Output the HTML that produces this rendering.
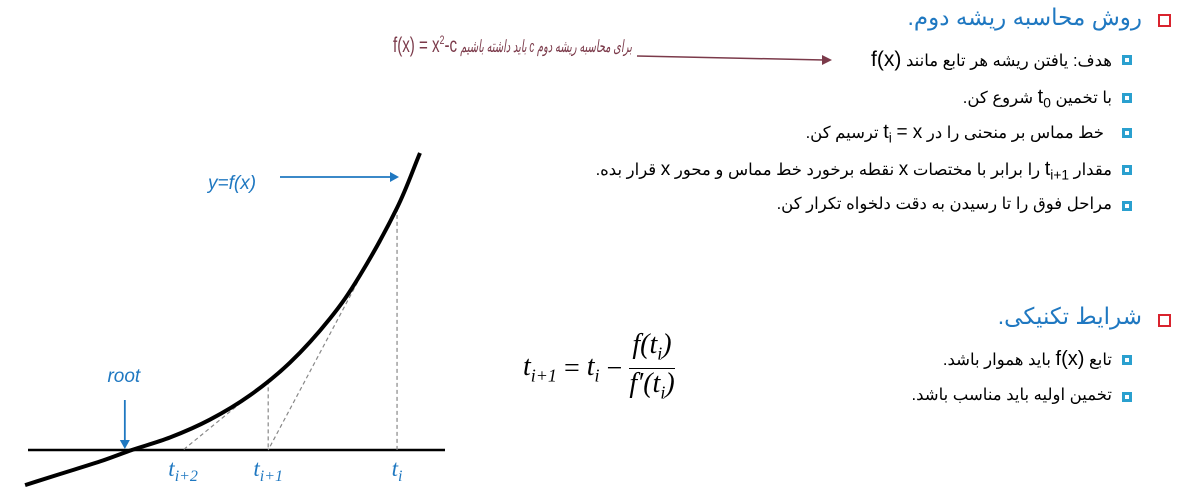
<!DOCTYPE html>
<html><head><meta charset="utf-8">
<style>
body{margin:0;width:1196px;height:498px;background:#fff;overflow:hidden;position:relative;font-family:"Liberation Sans","Noto Sans CJK SC",sans-serif;}
.t{position:absolute;white-space:nowrap;direction:rtl;text-align:right;}
.title{color:#1f78c1;font-size:23px;}
.line{color:#000;font-size:16.5px;}
.red{position:absolute;width:9px;height:9px;border:2px solid #d9232e;}
.bl{position:absolute;width:4px;height:4px;border:3px solid #2aa0cf;background:#fff;}
.m{font-family:"Liberation Serif",serif;font-style:italic;}
</style></head><body>
<div class="red" style="left:1158px;top:14px"></div>
<div class="t title" style="right:54px;top:4px">روش محاسبه ریشه دوم.</div>

<div style="position:absolute;white-space:nowrap;left:393px;top:33px;color:#7b3a4a;font-size:21px;transform:scaleX(0.72);transform-origin:left center">f(x) = x<sup style="font-size:12px">2</sup>-c</div>
<div class="t" style="right:564px;top:37px;color:#7b3a4a;font-size:17px;font-style:italic;transform:scaleX(0.58);transform-origin:right center">برای محاسبه ریشه دوم c باید داشته باشیم</div>
<svg style="position:absolute;left:0;top:0" width="1196" height="498"><line x1="637" y1="56" x2="824" y2="60" stroke="#7b3a4a" stroke-width="1.5"/><polygon points="832,60 822,55 822,65" fill="#7b3a4a"/></svg>

<div class="bl" style="left:1122px;top:55px"></div>
<div class="t line" style="right:84px;top:48px">هدف: یافتن ریشه هر تابع مانند <span style="font-size:21px">f(x)</span></div>
<div class="bl" style="left:1122px;top:93px"></div>
<div class="t line" style="right:84px;top:86px">با تخمین <span style="font-size:20px">t</span><sub>0</sub> شروع کن.</div>
<div class="bl" style="left:1122px;top:128px"></div>
<div class="t line" style="right:92px;top:121px">خط مماس بر منحنی را در <span style="font-size:20px">t</span><sub>i</sub> <span style="font-size:19px">= x</span> ترسیم کن.</div>
<div class="bl" style="left:1122px;top:165px"></div>
<div class="t line" style="right:84px;top:158px">مقدار <span style="font-size:20px">t</span><sub>i+1</sub> را برابر با مختصات <span style="font-size:19px">x</span> نقطه برخورد خط مماس و محور <span style="font-size:19px">x</span> قرار بده.</div>
<div class="bl" style="left:1122px;top:201px"></div>
<div class="t line" style="right:84px;top:194px">مراحل فوق را تا رسیدن به دقت دلخواه تکرار کن.</div>

<div class="red" style="left:1158px;top:314px"></div>
<div class="t title" style="right:54px;top:303px">شرایط تکنیکی.</div>
<div class="bl" style="left:1122px;top:355px"></div>
<div class="t line" style="right:84px;top:348px">تابع <span style="font-size:20px">f(x)</span> باید هموار باشد.</div>
<div class="bl" style="left:1122px;top:392px"></div>
<div class="t line" style="right:84px;top:385px">تخمین اولیه باید مناسب باشد.</div>

<div style="position:absolute;left:523px;top:331px;font-family:'Liberation Serif',serif;font-size:28px;display:flex;align-items:center;white-space:nowrap">
<span class="m">t<sub style="font-size:18px">i+1</sub></span>&nbsp;=&nbsp;<span class="m">t<sub style="font-size:18px">i</sub></span>&nbsp;−&nbsp;
<span style="display:inline-flex;flex-direction:column;align-items:center;"><span class="m" style="border-bottom:1.3px solid #000;padding:0 3px;line-height:28px">f(t<sub style="font-size:18px">i</sub>)</span><span class="m" style="line-height:30px">f′(t<sub style="font-size:18px">i</sub>)</span></span>
</div>

<svg id="chart" style="position:absolute;left:0;top:0" width="1196" height="498"></svg>
<script>
const curveX=[-0.07,0.77,1.73,2.49,3.41,4.36,5.32,6.28,7.24,7.96,8.85,9.4];
const curveY=[-1.17,-0.8,-0.38,0,0.42,1.01,1.82,2.91,4.38,5.82,8.07,9.9];
const iterX=[8.85,5.76,3.72];
const iterLabels=['i','i+1','i+2'];
const rootX=2.49;
const sx=x=>28+x*41.7, sy=y=>450-y*30;
const NS='http://www.w3.org/2000/svg';
const svg=document.getElementById('chart');
function mk(t,a){const e=document.createElementNS(NS,t);for(const k in a)e.setAttribute(k,a[k]);svg.appendChild(e);return e;}
function fAt(x){for(let i=0;i<curveX.length-1;i++){if(x>=curveX[i]&&x<=curveX[i+1]){const r=(x-curveX[i])/(curveX[i+1]-curveX[i]);return curveY[i]+r*(curveY[i+1]-curveY[i]);}}return 0;}
let ax=mk('line',{x1:28,y1:sy(0),x2:445,y2:sy(0),stroke:'#000','stroke-width':2.5});


for(let i=0;i<2;i++){
  const x0=iterX[i],y0=fAt(x0),x1=iterX[i+1];
  let v=mk('line',{x1:sx(x0),y1:sy(y0),x2:sx(x0),y2:sy(0),stroke:'#888','stroke-width':1.2,'stroke-dasharray':'4,3'});
  
  
  let t=mk('line',{x1:sx(x0),y1:sy(y0),x2:sx(x1),y2:sy(0),stroke:'#888','stroke-width':1.2,'stroke-dasharray':'4,3'});
  
  
}
const P=curveX.map((x,i)=>[sx(x),sy(curveY[i])]);
let d='M'+P[0][0]+','+P[0][1];
for(let i=0;i<P.length-1;i++){const p1=P[i],p2=P[i+1];
const p0=i>0?P[i-1]:[2*p1[0]-p2[0],2*p1[1]-p2[1]];
const p3=i+2<P.length?P[i+2]:[2*p2[0]-p1[0],2*p2[1]-p1[1]];
d+=` C${p1[0]+(p2[0]-p0[0])/6},${p1[1]+(p2[1]-p0[1])/6} ${p2[0]-(p3[0]-p1[0])/6},${p2[1]-(p3[1]-p1[1])/6} ${p2[0]},${p2[1]}`;}
let c=mk('path',{d:d,fill:'none',stroke:'#000','stroke-width':4,'stroke-linejoin':'round'});


iterX.forEach((x,i)=>{
  const t=mk('text',{x:sx(x),y:476,'text-anchor':'middle',fill:'#1f78c1','font-family':'Liberation Serif, serif','font-size':23,'font-style':'italic'});
  
  
  t.innerHTML='t<tspan font-size="16" dy="5">'+iterLabels[i]+'</tspan>';
});
let r=mk('text',{x:sx(rootX)-8,y:382,'text-anchor':'middle',fill:'#1f78c1','font-family':'Liberation Sans, sans-serif','font-size':19,'font-style':'italic'});


r.textContent='root';
let ra=mk('line',{x1:sx(rootX)-7,y1:400,x2:sx(rootX)-7,y2:442,stroke:'#1f78c1','stroke-width':1.8});


mk('polygon',{points:`${sx(rootX)-12},440 ${sx(rootX)-2},440 ${sx(rootX)-7},449`,fill:'#1f78c1'});
let yl=mk('text',{x:208,y:189,fill:'#1f78c1','font-family':'Liberation Sans, sans-serif','font-size':19,'font-style':'italic'});


yl.textContent='y=f(x)';
let ya=mk('line',{x1:280,y1:177,x2:392,y2:177,stroke:'#1f78c1','stroke-width':1.8});


mk('polygon',{points:'399,177 390,172 390,182',fill:'#1f78c1'});
</script>
</body></html>
